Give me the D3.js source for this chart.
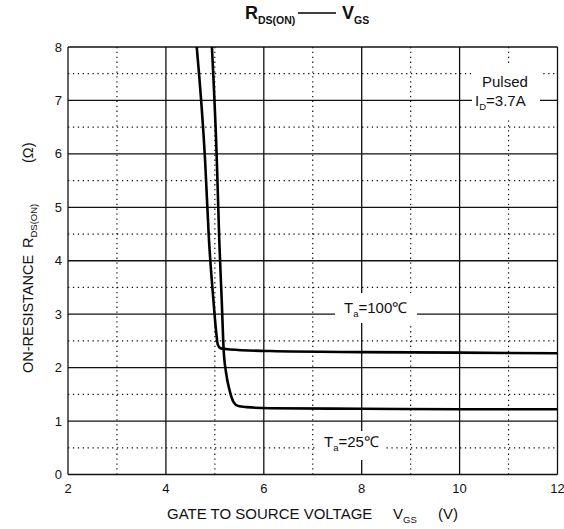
<!DOCTYPE html>
<html>
<head>
<meta charset="utf-8">
<script src="https://cdn.jsdelivr.net/npm/d3@7"></script>
<style>
  body { margin: 0; background: #fff; }
  svg text { font-family: "Liberation Sans", Arial, sans-serif; fill: #111; }
</style>
</head>
<body>
<svg id="chart" width="564" height="529"></svg>
<script>
// values: [VGS (V), RDS(on) (ohm)]
const curve100 = [[4.63, 8], [4.80, 5.89], [4.88, 4.39], [4.97, 3.27], [5.03, 2.64], [5.06, 2.43],
  [5.12, 2.36], [5.31, 2.34], [6.13, 2.31], [8, 2.29], [10, 2.28], [12, 2.27]]
const curve25 = [[4.94, 8], [5.04, 5.89], [5.09, 4.39], [5.14, 3.27], [5.18, 2.33], [5.23, 1.90],
  [5.30, 1.58], [5.38, 1.36], [5.48, 1.28], [5.65, 1.26], [6.13, 1.24], [8, 1.23], [10, 1.22], [12, 1.22]]
const xMajor = [2, 4, 6, 8, 10, 12]
const xMinor = [3, 5, 7, 9, 11]
const yMajor = [0, 1, 2, 3, 4, 5, 6, 7, 8]
const yMinor = [0.5, 1.5, 2.5, 3.5, 4.5, 5.5, 6.5, 7.5]

const svg = d3.select("#chart")
const x = d3.scaleLinear().domain([2, 12]).range([68, 557.5])
const y = d3.scaleLinear().domain([0, 8]).range([474.5, 47])

const grid = svg.append("g")
// dotted minor grid
grid.selectAll(".vmin").data(xMinor).enter().append("line")
  .attr("x1", d => x(d)).attr("x2", d => x(d)).attr("y1", y(0)).attr("y2", y(8))
  .attr("stroke", "#111").attr("stroke-width", 1.2).attr("stroke-dasharray", "1.3,3.6")
grid.selectAll(".hmin").data(yMinor).enter().append("line")
  .attr("x1", x(2)).attr("x2", x(12)).attr("y1", d => y(d)).attr("y2", d => y(d))
  .attr("stroke", "#111").attr("stroke-width", 1.2).attr("stroke-dasharray", "1.3,3.6")
// solid major grid
grid.selectAll(".vmaj").data(xMajor).enter().append("line")
  .attr("x1", d => x(d)).attr("x2", d => x(d)).attr("y1", y(0)).attr("y2", y(8))
  .attr("stroke", "#111").attr("stroke-width", 1.3)
grid.selectAll(".hmaj").data(yMajor).enter().append("line")
  .attr("x1", x(2)).attr("x2", x(12)).attr("y1", d => y(d)).attr("y2", d => y(d))
  .attr("stroke", "#111").attr("stroke-width", 1.3)

// tick labels
svg.append("g").selectAll("text").data(yMajor).enter().append("text")
  .attr("x", 62).attr("y", d => y(d) + 4.5).attr("text-anchor", "end")
  .attr("font-size", 13).text(d => d)
svg.append("g").selectAll("text").data(xMajor).enter().append("text")
  .attr("x", d => x(d)).attr("y", 493).attr("text-anchor", "middle")
  .attr("font-size", 13).text(d => d)

// curves
const line = d3.line().x(d => x(d[0])).y(d => y(d[1])).curve(d3.curveMonotoneX)
svg.append("g").selectAll("path").data([curve100, curve25]).enter().append("path")
  .attr("d", line).attr("fill", "none").attr("stroke", "#000").attr("stroke-width", 2.6)

// labels with white backing
function label(bx, by, bw, bh) {
  svg.append("rect").attr("x", bx).attr("y", by).attr("width", bw).attr("height", bh).attr("fill", "#fff")
}
label(472, 66, 68, 52)
label(335, 293, 82, 30)
label(316, 431, 70, 29)

let t = svg.append("text").attr("x", 482).attr("y", 87).attr("font-size", 15)
t.append("tspan").text("Pulsed")
t = svg.append("text").attr("x", 475).attr("y", 106).attr("font-size", 15)
t.append("tspan").text("I")
t.append("tspan").attr("font-size", 9.5).attr("dy", 4).text("D")
t.append("tspan").attr("dy", -4).text("=3.7A")

t = svg.append("text").attr("x", 344).attr("y", 313).attr("font-size", 15)
t.append("tspan").text("T")
t.append("tspan").attr("font-size", 9.5).attr("dy", 4).text("a")
t.append("tspan").attr("dy", -4).text("=100℃")

t = svg.append("text").attr("x", 324).attr("y", 447).attr("font-size", 15)
t.append("tspan").text("T")
t.append("tspan").attr("font-size", 9.5).attr("dy", 4).text("a")
t.append("tspan").attr("dy", -4).text("=25℃")

// title
t = svg.append("text").attr("x", 245).attr("y", 19).attr("font-size", 18).attr("font-weight", "bold")
t.append("tspan").text("R")
t.append("tspan").attr("font-size", 10.5).attr("dy", 5).text("DS(ON)")
svg.append("line").attr("x1", 298).attr("x2", 336).attr("y1", 13).attr("y2", 13)
  .attr("stroke", "#000").attr("stroke-width", 1.3)
t = svg.append("text").attr("x", 342).attr("y", 19).attr("font-size", 18).attr("font-weight", "bold")
t.append("tspan").text("V")
t.append("tspan").attr("font-size", 10.5).attr("dy", 5).text("GS")

// x axis title
t = svg.append("text").attr("x", 167).attr("y", 519).attr("font-size", 15)
t.append("tspan").text("GATE TO SOURCE VOLTAGE")
t = svg.append("text").attr("x", 393).attr("y", 519).attr("font-size", 15)
t.append("tspan").text("V")
t.append("tspan").attr("font-size", 9.5).attr("dy", 4).text("GS")
svg.append("text").attr("x", 438).attr("y", 519).attr("font-size", 15).text("(V)")

// y axis title (rotated)
svg.append("text").attr("transform", "translate(33,373) rotate(-90)")
  .attr("font-size", 14.5).text("ON-RESISTANCE")
t = svg.append("text").attr("transform", "translate(33,248) rotate(-90)").attr("font-size", 14.5)
t.append("tspan").text("R")
t.append("tspan").attr("font-size", 9.5).attr("dy", 4).text("DS(ON)")
svg.append("text").attr("transform", "translate(33,163) rotate(-90)").attr("font-size", 14.5).text("(Ω)")
</script>
</body>
</html>
